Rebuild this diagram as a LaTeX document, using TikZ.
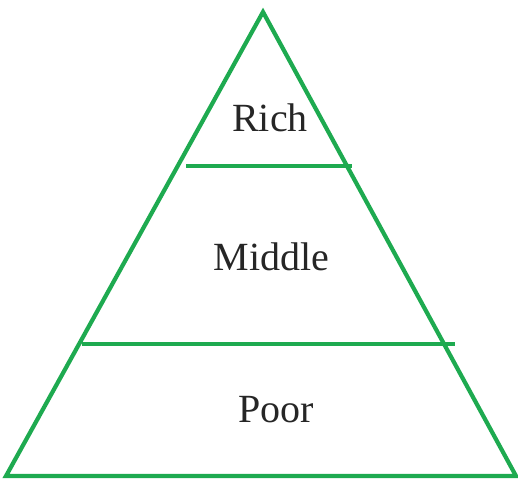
\documentclass[tikz,border=0pt]{standalone}
\usepackage{fontspec}
\setmainfont{Liberation Serif}
\usepackage{xcolor}
\usepackage{tikz}
\definecolor{pyramidgreen}{HTML}{1EAA50}
\tikzset{
  layer line/.style={draw=pyramidgreen, line width=4.2pt},
  layer label/.style={anchor=base, inner sep=0pt, font=\fontsize{40}{42}\selectfont, text=black!85}
}
\begin{document}
\begin{tikzpicture}[x=1pt, y=-1pt]
  \useasboundingbox (0,0) rectangle (518,478);

  % Outline
  \coordinate (apex) at (263,12);
  \coordinate (baseL) at (6,476);
  \coordinate (baseR) at (516,476);
  \draw[layer line, line join=miter] (apex) -- (baseR) -- (baseL) -- cycle;

  % Dividers
  \coordinate (topL) at (186,166);
  \coordinate (topR) at (352,166);
  \coordinate (midL) at (82,344);
  \coordinate (midR) at (455,344);
  \draw[layer line] (topL) -- (topR);
  \draw[layer line] (midL) -- (midR);

  % Labels
  \node[layer label] (rich) at (270,132) {Rich};
  \node[layer label] (middle) at (271.5,270) {Middle};
  \node[layer label] (poor) at (276,422) {Poor};
\end{tikzpicture}
\end{document}
